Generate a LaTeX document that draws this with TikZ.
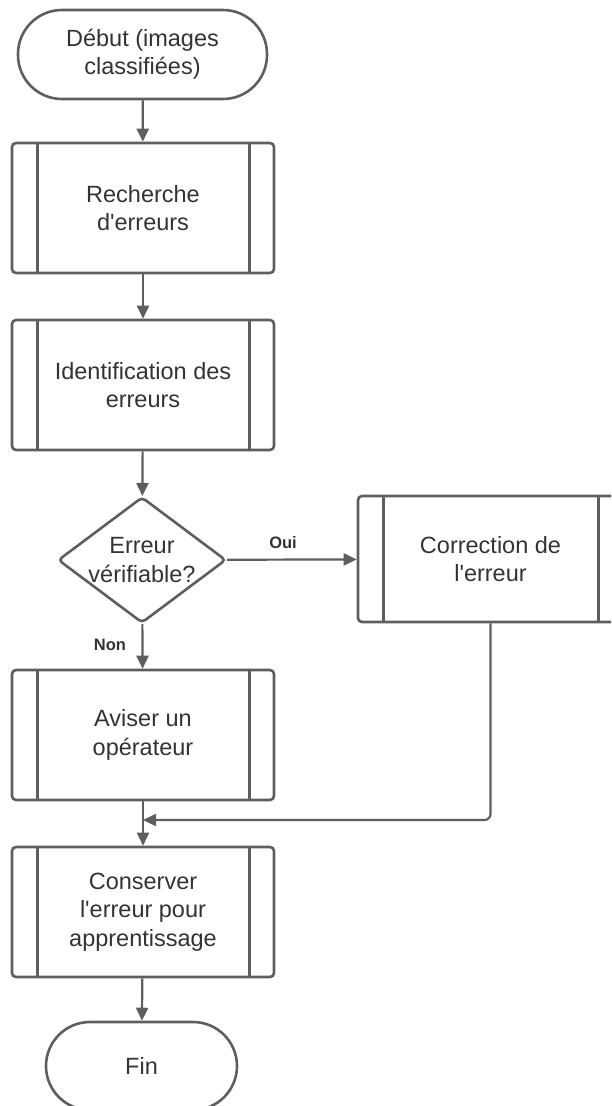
\documentclass[tikz,border=0pt]{standalone}
\usepackage{fontspec}
\setmainfont{Liberation Sans}
\usetikzlibrary{shapes.geometric,arrows.meta}
\definecolor{edge}{HTML}{5E5E5E}
\definecolor{ink}{HTML}{333333}
\newcommand{\apos}{\textquotesingle}
\begin{document}
\begin{tikzpicture}[x=1pt,y=-1pt,
  base/.style={draw=edge, line width=2.6pt, text=ink, align=center, inner sep=0pt,
    font=\fontsize{23.5}{28.5}\selectfont},
  proc/.style={base, rectangle, rounded corners=4pt, minimum width=262pt, minimum height=130pt},
  term/.style={base, rectangle, rounded corners=44pt},
  decision/.style={base, diamond, rounded corners=4pt, minimum width=168pt, minimum height=126pt},
  txt/.style={text=ink, align=center, inner sep=0pt, font=\fontsize{23.5}{28.5}\selectfont},
  bar/.style={draw=edge, line width=2.6pt},
  flow/.style={draw=edge, line width=2.2pt, -{Triangle[length=13pt,width=12pt]}},
  tag/.style={text=ink, inner sep=0pt, font=\bfseries\fontsize{16.5}{18}\selectfont}]

\path[use as bounding box, clip] (0,0) rectangle (611,1106);

% terminals
\node[term, minimum width=249pt, minimum height=89pt] (start) at (142.5,54.5) {Début (images\\classifiées)};
\node[term, minimum width=191pt, minimum height=88pt] (fin) at (141.5,1066) {Fin};

% process boxes
\node[proc] (b1) at (143,208) {Recherche\\d\apos erreurs};
\node[proc] (b2) at (143,385) {Identification des\\erreurs};
\node[proc] (b3) at (143,735) {Aviser un\\opérateur};
\node[proc] (b4) at (143,912) {Conserver\\l\apos erreur pour\\apprentissage};
\node[proc, minimum width=265pt, minimum height=126pt] (cor) at (490.5,559) {Correction de\\l\apos erreur};

% side bars of the predefined-process boxes
\foreach \n in {b1,b2,b3,b4,cor}{
  \draw[bar] ([xshift=27pt]\n.north west) -- ([xshift=27pt]\n.south west);
  \draw[bar] ([xshift=-26pt]\n.north east) -- ([xshift=-26pt]\n.south east);
}

% decision
\node[decision] (dec) at (142,560) {};
\node[txt] (dectxt) at (dec.center) {Erreur\\vérifiable?};

% connectors
\draw[flow] (start) -- (b1);
\draw[flow] (b1) -- (b2);
\draw[flow] (b2) -- (dec);
\draw[flow] (dec) -- (b3);
\draw[flow] (dec) -- (cor);
\coordinate (join) at (143,820);
\draw[flow, rounded corners=6pt] (cor.south) |- (join);
\draw[flow] (b3) -- (b4);
\draw[flow] (b4) -- (fin);

% branch labels
\node[tag] (oui) at (283,543) {Oui};
\node[tag] (non) at (110,645) {Non};
\end{tikzpicture}
\end{document}
